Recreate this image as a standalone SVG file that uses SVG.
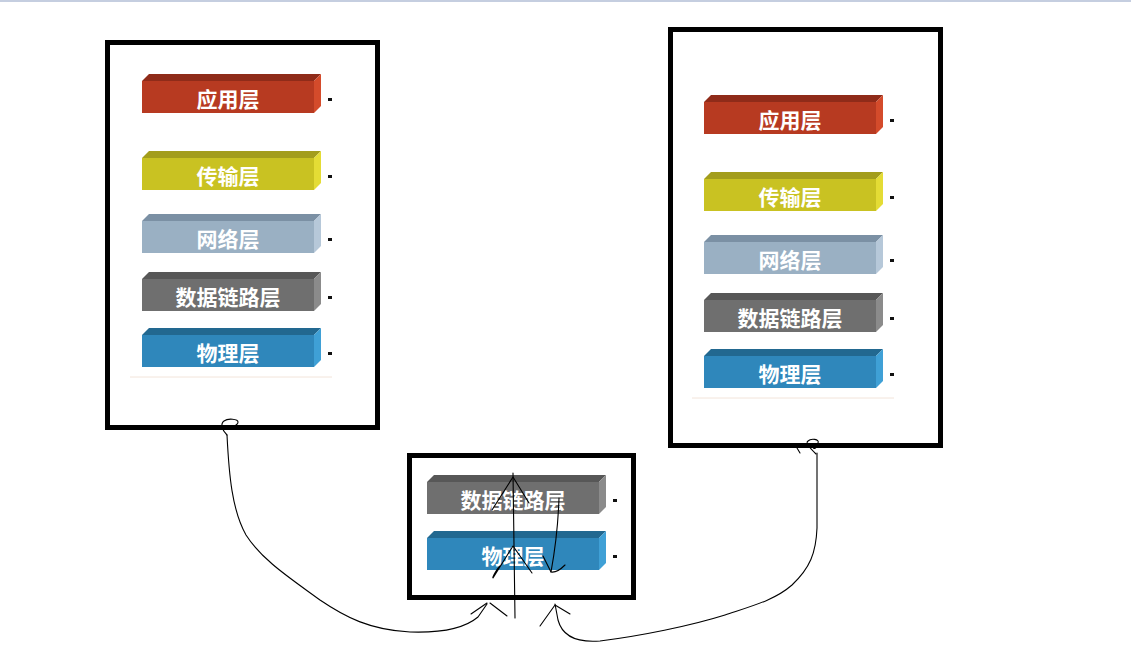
<svg xmlns="http://www.w3.org/2000/svg" xmlns:xlink="http://www.w3.org/1999/xlink" width="1131" height="669" viewBox="0 0 1131 669">
<style>
.frame{fill:none;stroke:#000;stroke-width:5}
.lbl{font-family:"Microsoft YaHei","Noto Sans CJK SC","Noto Sans",sans-serif;font-weight:bold;font-size:21px;fill:#fff;text-anchor:middle}
.dot{fill:#111}
.pen{fill:none;stroke:#000;stroke-width:1.1;stroke-linecap:round;stroke-linejoin:round}
.base{stroke:#f2e4da;stroke-width:1}
</style>
<defs>
<g id="bar-red">
<polygon points="0,7 7,0 179,0 172,7" fill="#8f2b19"/>
<rect x="0" y="7" width="172" height="32" fill="#b73a21"/>
<polygon points="172,7 179,0 179,32 172,39" fill="#d44b2b"/>
</g>
<g id="bar-yellow">
<polygon points="0,7 7,0 179,0 172,7" fill="#a39d1c"/>
<rect x="0" y="7" width="172" height="32" fill="#c9c222"/>
<polygon points="172,7 179,0 179,32 172,39" fill="#e4dc35"/>
</g>
<g id="bar-steel">
<polygon points="0,7 7,0 179,0 172,7" fill="#7b90a4"/>
<rect x="0" y="7" width="172" height="32" fill="#9ab0c3"/>
<polygon points="172,7 179,0 179,32 172,39" fill="#b6c8d9"/>
</g>
<g id="bar-gray">
<polygon points="0,7 7,0 179,0 172,7" fill="#575757"/>
<rect x="0" y="7" width="172" height="32" fill="#6f6f6f"/>
<polygon points="172,7 179,0 179,32 172,39" fill="#8b8b8b"/>
</g>
<g id="bar-blue">
<polygon points="0,7 7,0 179,0 172,7" fill="#226890"/>
<rect x="0" y="7" width="172" height="32" fill="#2f87bb"/>
<polygon points="172,7 179,0 179,32 172,39" fill="#3fa0d6"/>
</g>
</defs>
<rect x="0" y="0" width="1131" height="669" fill="#fff"/>
<rect x="0" y="0" width="1131" height="2" fill="#c5cee0"/>

<g id="left-stack">
<rect class="frame" x="107.5" y="42.5" width="270" height="385"/>
<line class="base" x1="130" y1="377" x2="332" y2="377"/>
<g id="left-app"><use xlink:href="#bar-red" x="142" y="74"/><text class="lbl" x="228" y="107">应用层</text><rect class="dot" x="328" y="98" width="4" height="3"/></g>
<g id="left-transport"><use xlink:href="#bar-yellow" x="142" y="151"/><text class="lbl" x="228" y="184">传输层</text><rect class="dot" x="328" y="175" width="4" height="3"/></g>
<g id="left-network"><use xlink:href="#bar-steel" x="142" y="214"/><text class="lbl" x="228" y="247">网络层</text><rect class="dot" x="328" y="238" width="4" height="3"/></g>
<g id="left-datalink"><use xlink:href="#bar-gray" x="142" y="272"/><text class="lbl" x="228" y="305">数据链路层</text><rect class="dot" x="328" y="296" width="4" height="3"/></g>
<g id="left-physical"><use xlink:href="#bar-blue" x="142" y="328"/><text class="lbl" x="228" y="361">物理层</text><rect class="dot" x="328" y="352" width="4" height="3"/></g>
</g>

<g id="right-stack">
<rect class="frame" x="670.5" y="29.5" width="270" height="416"/>
<line class="base" x1="692" y1="398" x2="894" y2="398"/>
<g id="right-app"><use xlink:href="#bar-red" x="704" y="95"/><text class="lbl" x="790" y="128">应用层</text><rect class="dot" x="890" y="119" width="4" height="3"/></g>
<g id="right-transport"><use xlink:href="#bar-yellow" x="704" y="172"/><text class="lbl" x="790" y="205">传输层</text><rect class="dot" x="890" y="196" width="4" height="3"/></g>
<g id="right-network"><use xlink:href="#bar-steel" x="704" y="235"/><text class="lbl" x="790" y="268">网络层</text><rect class="dot" x="890" y="259" width="4" height="3"/></g>
<g id="right-datalink"><use xlink:href="#bar-gray" x="704" y="293"/><text class="lbl" x="790" y="326">数据链路层</text><rect class="dot" x="890" y="317" width="4" height="3"/></g>
<g id="right-physical"><use xlink:href="#bar-blue" x="704" y="349"/><text class="lbl" x="790" y="382">物理层</text><rect class="dot" x="890" y="373" width="4" height="3"/></g>
</g>

<g id="middle-stack">
<rect class="frame" x="409.5" y="455.5" width="224" height="142"/>
<g id="mid-datalink"><use xlink:href="#bar-gray" x="427" y="475"/><text class="lbl" x="513" y="508">数据链路层</text><rect class="dot" x="613" y="499" width="4" height="3"/></g>
<g id="mid-physical"><use xlink:href="#bar-blue" x="427" y="531"/><text class="lbl" x="513" y="564">物理层</text><rect class="dot" x="613" y="555" width="4" height="3"/></g>
</g>

<g id="connectors">
<path class="pen" d="M227,435 C222,430 220,424 224,421 C228,418 238,419 238,422 C238,425 232,428 226,426"/>
<path class="pen" d="M227,435 C229,475 232,510 246,535 C262,560 290,578 320,600 C345,617 370,630 410,632 C440,633 465,628 478,617 L487,604"/>
<path class="pen" d="M471,614 L487,603 M490,603 L507,616"/>
<path class="pen" d="M816,454 C810,448 805,443 808,441 C811,438 820,439 818,443 C817,447 814,452 812,445 M797,448 L800,453"/>
<path class="pen" d="M817,453 L817,528 C816,553 810,568 792,585 C775,600 752,606 725,615 C690,626 640,636 600,641 C575,643 562,635 558,620 L555,604"/>
<path class="pen" d="M540,626 L555,605 L570,614"/>
<path class="pen" d="M515,618 L513,473"/>
<path class="pen" d="M492,510 L513,477 L529,503"/>
<path class="pen" d="M500,566 C496,570 492,578 493,578 L513,546 L532,573"/>
<path class="pen" d="M559,498 C558,530 555,550 551,572"/>
<path class="pen" d="M543,556 L551,572 C556,573 561,569 565,565"/>
</g>
</svg>
